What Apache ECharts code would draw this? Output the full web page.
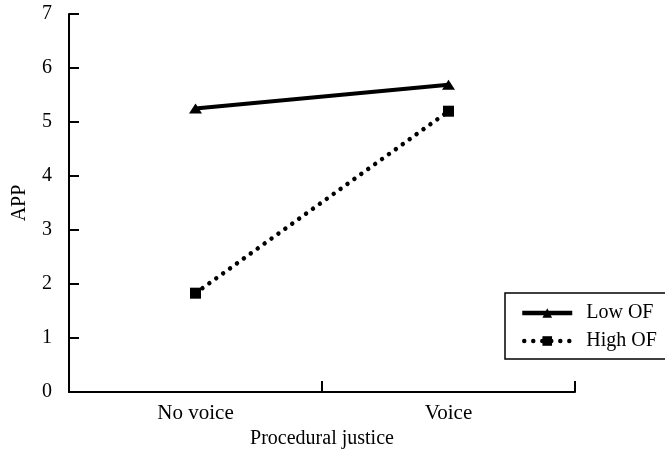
<!DOCTYPE html>
<html>
<head>
<meta charset="utf-8">
<script src="https://cdn.jsdelivr.net/npm/echarts@6/dist/echarts.min.js"></script>
<style>html,body{margin:0;padding:0;background:#fff;}#c{width:665px;height:454px;}</style>
</head>
<body>
<div id="c"></div>
<script>
const categories = ['No voice', 'Voice'];
const lowOF = [5.25, 5.69];
const highOF = [1.83, 5.2];
const yTicks = [0, 1, 2, 3, 4, 5, 6, 7];

const FONT = 'Liberation Serif';
const chart = echarts.init(document.getElementById('c'));
chart.setOption({
  animation: false,
  backgroundColor: '#fff',
  textStyle: { fontFamily: FONT, color: '#000' },
  grid: { left: 69, right: 90, top: 14, bottom: 62, containLabel: false, outerBoundsMode: 'none' },
  legend: {
    orient: 'vertical',
    left: 505,
    top: 293,
    padding: [10, 9, 8, 15],
    itemWidth: 50,
    itemHeight: 12,
    itemGap: 8,
    borderColor: '#000',
    borderWidth: 1.5,
    borderRadius: 0,
    textStyle: { fontFamily: FONT, fontSize: 20, color: '#000', padding: [0, 0, 0, 9] },
    data: [
      { name: 'Low OF', lineStyle: { width: 4.5, color: '#000', type: 'solid' } },
      { name: 'High OF', lineStyle: { width: 4.5, color: '#000', type: [0.01, 9], dashOffset: -2, cap: 'round' } }
    ]
  },
  xAxis: {
    type: 'category',
    data: categories,
    boundaryGap: true,
    name: 'Procedural justice',
    nameLocation: 'middle',
    nameGap: 36,
    nameTextStyle: { fontFamily: FONT, fontSize: 20, color: '#000' },
    axisLine: { show: true, lineStyle: { color: '#000', width: 2 } },
    axisTick: { show: true, interval: 0, inside: true, length: 11, lineStyle: { color: '#000', width: 2 } },
    axisLabel: { fontFamily: FONT, fontSize: 21, color: '#000', margin: 11, interval: 0 },
    splitLine: { show: false }
  },
  yAxis: {
    type: 'value',
    min: 0,
    max: 7,
    interval: 1,
    name: 'APP',
    nameLocation: 'middle',
    nameGap: 39,
    nameRotate: 90,
    nameTextStyle: { fontFamily: FONT, fontSize: 20, color: '#000' },
    axisLine: { show: true, lineStyle: { color: '#000', width: 2 } },
    axisTick: { show: true, inside: true, length: 10, lineStyle: { color: '#000', width: 2 } },
    axisLabel: {
      fontFamily: FONT, fontSize: 20, color: '#000', margin: 17,
      formatter: v => yTicks.includes(v) ? String(v) : ''
    },
    splitLine: { show: false }
  },
  series: [
    {
      name: 'Low OF',
      type: 'line',
      data: lowOF,
      symbol: 'triangle',
      symbolSize: [13, 10],
      lineStyle: { color: '#000', width: 4 },
      itemStyle: { color: '#000' }
    },
    {
      name: 'High OF',
      type: 'line',
      data: highOF,
      symbol: 'rect',
      symbolSize: 11,
      lineStyle: { color: '#000', width: 4.5, type: [0.01, 8.5], cap: 'round' },
      itemStyle: { color: '#000' }
    }
  ]
});
</script>
</body>
</html>
